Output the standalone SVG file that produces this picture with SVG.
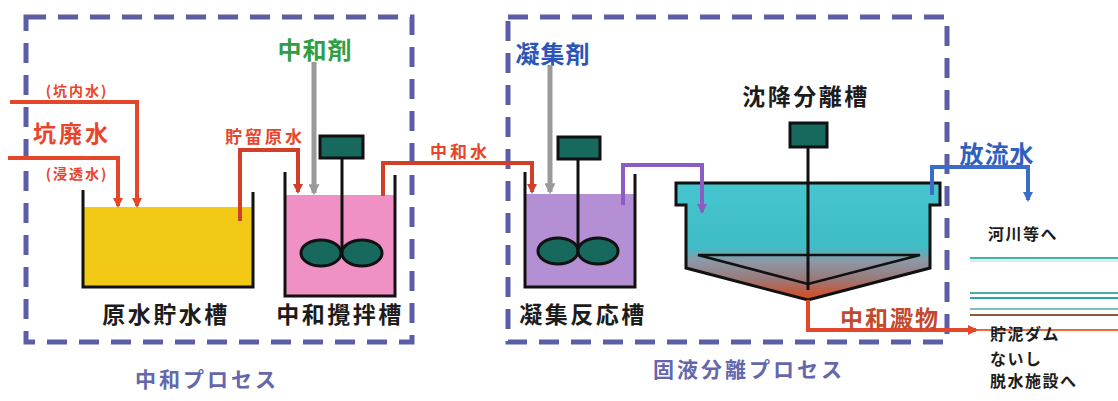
<svg xmlns="http://www.w3.org/2000/svg" width="1118" height="401" viewBox="0 0 1118 401">
  <defs>
    <style>
      text { font-family: "Noto Sans CJK JP", "Noto Sans", sans-serif; font-weight: 700; dominant-baseline: central; }
      .frame { fill: none; stroke: #5b5ea6; stroke-width: 5; stroke-dasharray: 20 12; }
      .wall { fill: none; stroke: #111; stroke-width: 3; stroke-linejoin: miter; }
      .basin { fill: url(#settle-fill); stroke: #111; stroke-width: 3; stroke-linejoin: miter; }
      .motor { fill: #17695d; stroke: #111; stroke-width: 3; }
      .blade { fill: #17695d; stroke: #111; stroke-width: 3; }
      .shaft { stroke: #111; stroke-width: 3; }
      .pipe-red { fill: none; stroke: #e4462a; stroke-width: 4; }
      .pipe-dark { fill: none; stroke: #d23f28; stroke-width: 4; }
      .pipe-purple { fill: none; stroke: #8a5cc4; stroke-width: 4; }
      .pipe-blue { fill: none; stroke: #3a6cc8; stroke-width: 4; }
      .feed { fill: none; stroke: #9a9a9a; stroke-width: 5; }
      .tank-label { fill: #1c1c1c; font-size: 23px; letter-spacing: 2.5px; text-anchor: middle; }
      .proc-label { fill: #6567ad; font-size: 21px; letter-spacing: 3px; text-anchor: middle; }
      .red-label { fill: #e8452c; }
      .dest { fill: #1c1c1c; font-size: 16px; letter-spacing: 1.5px; }
    </style>
    <marker id="ah-red" viewBox="0 0 10 10" refX="8" refY="5" markerWidth="10" markerHeight="10" markerUnits="userSpaceOnUse" orient="auto">
      <path d="M0,0 L10,5 L0,10 z" fill="#e4462a"/>
    </marker>
    <marker id="ah-dark" viewBox="0 0 10 10" refX="8" refY="5" markerWidth="10" markerHeight="10" markerUnits="userSpaceOnUse" orient="auto">
      <path d="M0,0 L10,5 L0,10 z" fill="#d23f28"/>
    </marker>
    <marker id="ah-purple" viewBox="0 0 10 10" refX="8" refY="5" markerWidth="10" markerHeight="10" markerUnits="userSpaceOnUse" orient="auto">
      <path d="M0,0 L10,5 L0,10 z" fill="#8a5cc4"/>
    </marker>
    <marker id="ah-blue" viewBox="0 0 10 10" refX="8" refY="5" markerWidth="10" markerHeight="10" markerUnits="userSpaceOnUse" orient="auto">
      <path d="M0,0 L10,5 L0,10 z" fill="#3a6cc8"/>
    </marker>
    <marker id="ah-gray" viewBox="0 0 10 10" refX="8" refY="5" markerWidth="11" markerHeight="11" markerUnits="userSpaceOnUse" orient="auto">
      <path d="M0,0 L10,5 L0,10 z" fill="#9a9a9a"/>
    </marker>
    <linearGradient id="settle-fill" x1="0" y1="0" x2="0" y2="1">
      <stop offset="0" stop-color="#46c6cf"/>
      <stop offset="0.55" stop-color="#3fbcc6"/>
      <stop offset="0.66" stop-color="#8b9aa9"/>
      <stop offset="0.82" stop-color="#9a7a7a"/>
      <stop offset="1" stop-color="#d8481a"/>
    </linearGradient>
  </defs>

  <rect width="1118" height="401" fill="#ffffff"/>

  <!-- process frames -->
  <g id="neutralization-process">
    <rect class="frame" x="26" y="17" width="386" height="325"/>
    <text class="proc-label" x="207" y="378">中和プロセス</text>
  </g>
  <g id="separation-process">
    <rect class="frame" x="508" y="17" width="439" height="325"/>
    <text class="proc-label" x="749" y="368">固液分離プロセス</text>
  </g>

  <!-- raw water storage tank -->
  <g id="raw-water-tank">
    <rect x="84" y="207" width="169" height="80" fill="#f2c914"/>
    <path class="wall" d="M83,190 V287 H253 V192"/>
    <text class="tank-label" x="166" y="313">原水貯水槽</text>
  </g>

  <!-- neutralization mixing tank -->
  <g id="mixing-tank">
    <rect x="286" y="195" width="109" height="101" fill="#ef91c4"/>
    <path class="wall" d="M285,172 V296 H395 V175"/>
    <line class="shaft" x1="342" y1="158" x2="342" y2="250"/>
    <rect class="motor" x="320" y="136" width="43" height="22"/>
    <ellipse class="blade" cx="321" cy="253" rx="20" ry="13"/>
    <ellipse class="blade" cx="362" cy="253" rx="20" ry="13"/>
    <text class="tank-label" x="340" y="313">中和攪拌槽</text>
  </g>

  <!-- coagulation reaction tank -->
  <g id="coagulation-tank">
    <rect x="526" y="194" width="108" height="92" fill="#b48fd3"/>
    <path class="wall" d="M525,172 V287 H635 V174"/>
    <line class="shaft" x1="578" y1="158" x2="578" y2="250"/>
    <rect class="motor" x="558" y="137" width="42" height="22"/>
    <ellipse class="blade" cx="558" cy="251" rx="20" ry="13"/>
    <ellipse class="blade" cx="598" cy="251" rx="20" ry="13"/>
    <text class="tank-label" x="583" y="313">凝集反応槽</text>
  </g>

  <!-- settling separation tank -->
  <g id="settling-tank">
    <path class="basin" d="M676,183 H940 V205 H930 V268 L808,300 L686,268 V205 H676 Z"/>
    <path d="M698,255 H920 L808,284 Z" fill="none" stroke="#111" stroke-width="2.5"/>
    <line class="shaft" x1="808" y1="147" x2="808" y2="290"/>
    <rect class="motor" x="790" y="123" width="37" height="24"/>
    <text class="tank-label" x="806" y="95">沈降分離槽</text>
  </g>

  <!-- dosing chemicals -->
  <g id="neutralizer">
    <text x="315" y="48" font-size="24" letter-spacing="1" fill="#2f9e44" text-anchor="middle">中和剤</text>
  </g>
  <g id="coagulant">
    <text x="553" y="52" font-size="24" letter-spacing="1" fill="#2c55b8" text-anchor="middle">凝集剤</text>
  </g>

  <!-- source water labels -->
  <g id="mine-drainage">
    <text class="red-label" x="77" y="90" font-size="14" letter-spacing="2" text-anchor="middle">(坑内水)</text>
    <text class="red-label" x="72" y="132" font-size="23" letter-spacing="3" text-anchor="middle">坑廃水</text>
    <text class="red-label" x="77" y="173" font-size="14" letter-spacing="2" text-anchor="middle">(浸透水)</text>
  </g>

  <!-- discharge destinations -->
  <g id="effluent">
    <text x="997" y="152" font-size="24" letter-spacing="1" fill="#2f5fbf" text-anchor="middle">放流水</text>
    <text class="dest" x="988" y="233" font-size="17" letter-spacing="2.5">河川等へ</text>
  </g>
  <g id="river-lines">
    <line x1="970" y1="258" x2="1118" y2="258" stroke="#3cb5a3" stroke-width="2"/>
    <line x1="970" y1="261" x2="1118" y2="261" stroke="#a9dcd6" stroke-width="1"/>
    <line x1="970" y1="293" x2="1118" y2="293" stroke="#44b29a" stroke-width="2"/>
    <line x1="970" y1="298" x2="1118" y2="298" stroke="#2aa2aa" stroke-width="2"/>
    <line x1="970" y1="309" x2="1118" y2="309" stroke="#52aaa4" stroke-width="1.5"/>
    <line x1="970" y1="315" x2="1118" y2="315" stroke="#8b5a3a" stroke-width="2"/>
    <line x1="975" y1="330" x2="1118" y2="330" stroke="#ec6a3a" stroke-width="2"/>
  </g>
  <g id="sludge-destination">
    <text class="dest" x="990" y="333">貯泥ダム</text>
    <text class="dest" x="990" y="358">ないし</text>
    <text class="dest" x="990" y="380" letter-spacing="2">脱水施設へ</text>
  </g>

  <!-- connectors -->
  <g id="connectors">
    <path class="pipe-red" d="M10,102 H137 V206" marker-end="url(#ah-red)"/>
    <path class="pipe-red" d="M8,158 H118 V206" marker-end="url(#ah-red)"/>
    <path class="pipe-dark" d="M240,221 V150 H298 V192" marker-end="url(#ah-dark)"/>
    <text class="red-label" x="265" y="135" font-size="17" letter-spacing="3" text-anchor="middle">貯留原水</text>
    <path class="pipe-dark" d="M383,196 V163 H532 V192" marker-end="url(#ah-dark)"/>
    <text class="red-label" x="460" y="150" font-size="17" letter-spacing="3" text-anchor="middle">中和水</text>
    <path class="feed" d="M314,62 V193" marker-end="url(#ah-gray)"/>
    <path class="feed" d="M550,65 V192" marker-end="url(#ah-gray)"/>
    <path class="pipe-purple" d="M623,205 V165 H702 V212" marker-end="url(#ah-purple)"/>
    <path class="pipe-blue" d="M932,195 V167 H1028 V200" marker-end="url(#ah-blue)"/>
    <path class="pipe-red" d="M808,300 V330 H976" stroke="#ea4a24" marker-end="url(#ah-red)"/>
    <text x="890" y="317" font-size="23" letter-spacing="2" fill="#c24a2c" text-anchor="middle">中和澱物</text>
  </g>
</svg>
